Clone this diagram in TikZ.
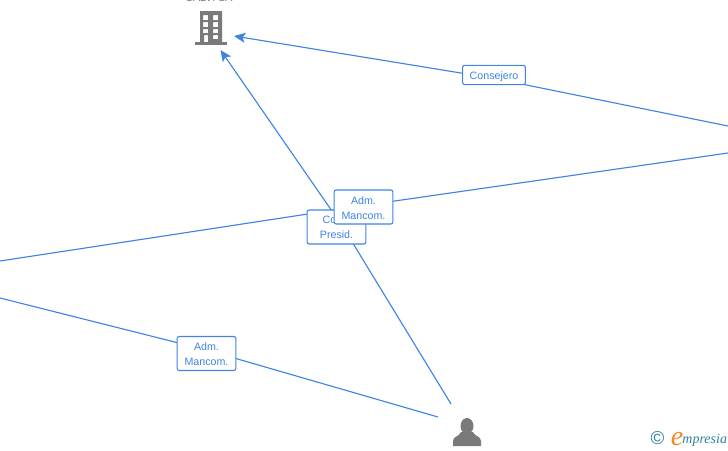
\documentclass[tikz,border=0pt]{standalone}
\usepackage{fontspec}
\setmainfont{Liberation Sans}
\newfontfamily\logofont{Liberation Serif}
\usetikzlibrary{arrows.meta,
                backgrounds,
                positioning}
\definecolor{linkblue}{HTML}{3F84E5}
\definecolor{icongray}{HTML}{7A7A7A}
\definecolor{logoteal}{HTML}{2F7F9F}
\definecolor{logoorange}{HTML}{F08A1D}

\begin{document}
\begin{tikzpicture}[
x=0.75pt, y=-0.75pt,
link/.style = {draw=linkblue, line width=0.85pt},
linkarrow/.style = {link, -{Stealth[length=8.5pt, width=7.5pt, inset=2pt]}},
rolebox/.style = {draw=linkblue, fill=white, rounded corners=1.5pt, line width=0.8pt,
                  text=linkblue, font=\fontsize{8pt}{11.2pt}\selectfont, align=center,
                  inner sep=0pt, minimum height=25.5pt, text width=44pt,
                  execute at begin node=\rule{0pt}{#1}},
rolebox/.default = 8pt,
roleboxsmall/.style = {rolebox=#1, minimum height=14.5pt, text width=47pt},
icon/.style = {fill=icongray, draw=none}
                        ]
		    \useasboundingbox (0,0) rectangle (728,450);

		    \coordinate (rightup) at (728,126);
		    \coordinate (rightdown) at (728,153);
		    \coordinate (leftup) at (0,261);
		    \coordinate (leftdown) at (0,298);
		    \coordinate (companytip) at (220.5,50);
		    \coordinate (companyside) at (234,36);
		    \coordinate (personup) at (451,404);
		    \coordinate (personleft) at (438,417);

		    \node (company) at (209,-2) [font=\fontsize{8pt}{9pt}\selectfont, text=icongray, inner sep=0pt] {CALVI SA};
		    \node (consejero) at (494,75) [roleboxsmall=9pt] {Consejero};
		    \node (mancomleft) at (206.5,353.5) [rolebox=6.5pt] {Adm.\\Mancom.};
		    \node (presid) at (336.5,227) [rolebox=5pt] {Cons.\\Presid.};
		    \node (mancomtop) at (363.5,207) [rolebox] {Adm.\\Mancom.};

		    % lines run behind the boxes and bend a little inside them
		    \begin{scope}[on background layer]
		    \draw[linkarrow] (rightup) -- ([shift={(0,3.4)}]consejero.center) -- (companyside);
		    \draw[link] (leftup) -- ([shift={(0,-1.5)}]mancomtop.center) -- (rightdown);
		    \draw[link] (leftdown) -- ([shift={(0,-3.5)}]mancomleft.center) -- (personleft);
		    \draw[linkarrow] (personup) -- ([shift={(6.5,0)}]presid.center) -- (companytip);
		    \end{scope}

		    % building
		    \fill[icon] (195,42) rectangle (227,45);
		    \fill[icon, even odd rule] (200,11) rectangle (222,42)
		    	(203,15) rectangle (208,20) (213,15) rectangle (218,20)
		    	(203,22) rectangle (208,27) (213,22) rectangle (218,27)
		    	(203,29) rectangle (208,33) (213,29) rectangle (218,33)
		    	(204,35) rectangle (208,42) (213,35) rectangle (218,39);

		    % person
		    \fill[icon] (467,426) ellipse [x radius=6.5, y radius=8];
		    \fill[icon] (453,446) -- (453,441) .. controls (453,436) and (459,437) .. (461,432)
		    	-- (473,432) .. controls (475,437) and (481,436) .. (481,441) -- (481,446) -- cycle;

		    % logo
		    \node (copyright) at (657.5,438.5) [font=\fontsize{14pt}{14pt}\selectfont, text=logoteal, inner sep=0pt] {©};
		    \node (logoe) at (677,439) [font=\logofont\fontsize{21pt}{21pt}\selectfont\itshape, text=logoorange, inner sep=0pt] {e};
		    \node (logotext) [right=0pt of logoe, xshift=-1pt, yshift=-1pt, font=\logofont\fontsize{10.5pt}{10pt}\selectfont\itshape, text=logoteal, inner sep=0pt] {mpresia};
	    \end{tikzpicture}
\end{document}
